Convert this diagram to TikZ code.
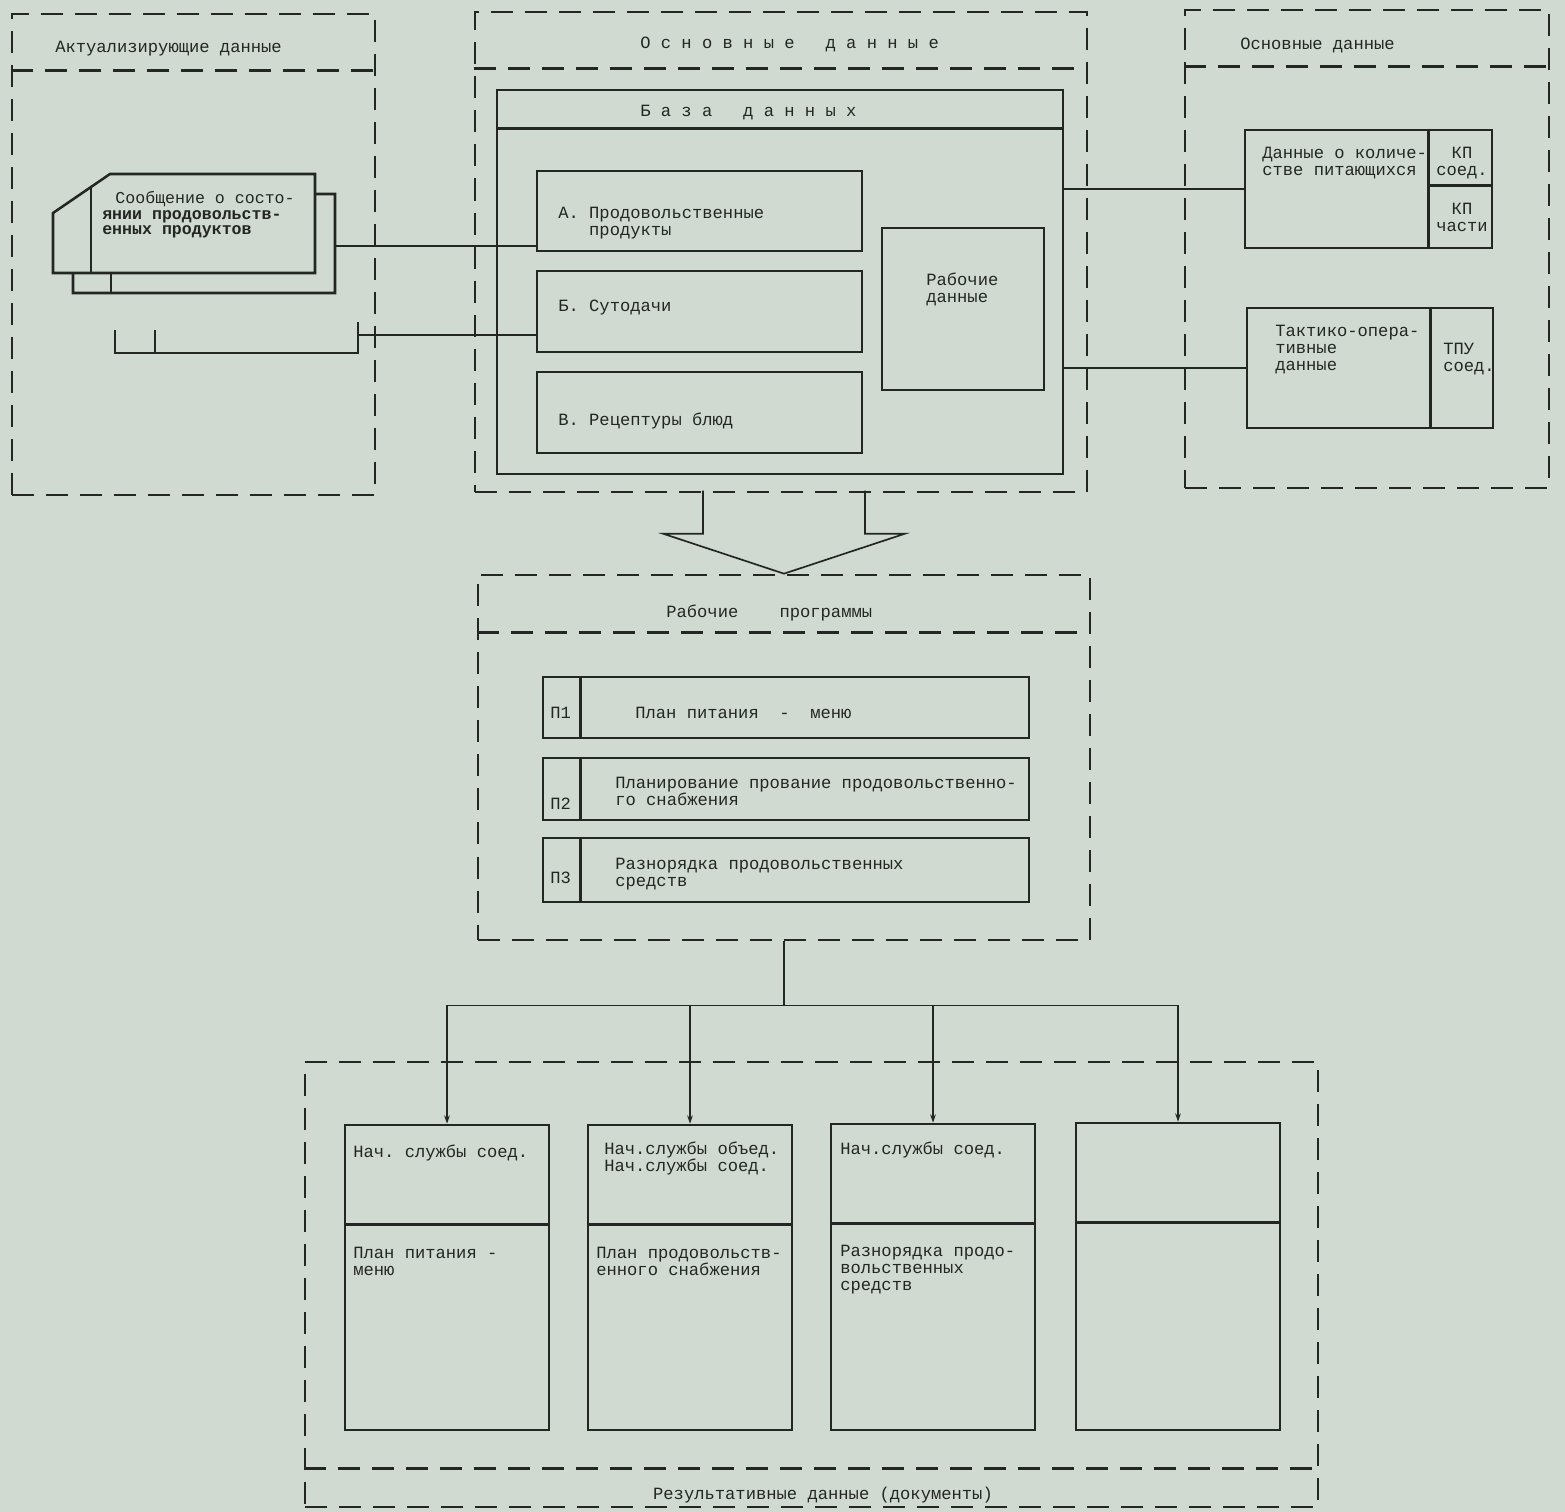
\documentclass[tikz,border=0pt]{standalone}
\usepackage{fontspec}
\setmonofont{Liberation Mono}
\usetikzlibrary{arrows.meta,positioning,fit,calc}
\definecolor{paper}{RGB}{208,218,208}
\definecolor{ink}{RGB}{36,38,36}

\begin{document}
\begin{tikzpicture}[
  x=0.025cm, y=-0.025cm,
  font=\ttfamily\fontsize{12.2}{12.1}\selectfont,
  every node/.style={text=ink},
  frame/.style={draw=ink, line width=1.9pt, dash pattern=on 0.55cm off 0.3cm, inner sep=0pt},
  sep/.style={draw=ink, line width=1.9pt, dash pattern=on 0.55cm off 0.3cm},
  box/.style={draw=ink, line width=1.8pt, inner sep=0pt},
  outline/.style={draw=ink, line width=1.8pt},
  wire/.style={draw=ink, line width=1pt},
  arr/.style={wire, -{Stealth[length=6pt,width=4pt]}},
  lbl/.style={anchor=north west, inner sep=0pt, align=left}
]
\fill[paper] (0,0) rectangle (1565,1512);
\useasboundingbox (0,0) rectangle (1565,1512);

% actualising data
\node[frame, fit={(12,14) (375,495)}] (akt) {};
\draw[sep] ($(akt.north west)+(0,58)$) -- ($(akt.north east)+(0,58)$);
\node[lbl] (akttitle) at (55,41) {Актуализирующие данные};

% card deck
\draw[outline] (115,330) -- (115,353) -- (358,353) -- (358,322);
\draw[outline] (155,330) -- (155,353);
\draw[outline] (73,293) -- (73,233) -- (130,194) -- (335,194) -- (335,293) -- cycle;
\draw[outline] (111,207) -- (111,293);
\filldraw[outline, fill=paper] (53,273) -- (53,213) -- (110,174) -- (315,174) -- (315,273) -- cycle;
\draw[outline] (91,187) -- (91,273);
\node[lbl, font=\ttfamily\fontsize{11.8}{11.2}\selectfont] (msg) at (102,191)
  {\hspace*{1.5ex}Сообщение о состо-\\\textbf{янии продовольств-}\\\textbf{енных продуктов}};
\coordinate (cardout) at (335,246);
\coordinate (deckout) at (358,335);

% main data
\node[frame, fit={(475,12) (1087,492)}] (osn) {};
\draw[sep] ($(osn.north west)+(0,58)$) -- ($(osn.north east)+(0,58)$);
\node[lbl] (osntitle) at (640,37) {О с н о в н ы е~~~д а н н ы е};

\node[box, fit={(497,90) (1063,474)}] (db) {};
\draw[outline] ($(db.north west)+(0,40)$) -- ($(db.north east)+(0,40)$);
\node[lbl] (dbtitle) at (640,105) {Б а з а~~~д а н н ы х};

\node[box, fit={(537,171) (862,251)}] (a) {};
\node[box, fit={(537,271) (862,352)}] (b) {};
\node[box, fit={(537,372) (862,453)}] (v) {};
\node[box, fit={(882,228) (1044,390)}] (work) {};
\node[lbl] (atxt) at (558,207) {А. Продовольственные\\\phantom{А. }продукты};
\node[lbl] (btxt) at (558,300) {Б. Сутодачи};
\node[lbl] (vtxt) at (558,413) {В. Рецептуры блюд};
\node[lbl] (worktxt) at (926,273) {Рабочие\\данные};

% main data, right
\node[frame, fit={(1185,10) (1549,488)}] (osnr) {};
\draw[sep] ($(osnr.north west)+(0,58)$) -- ($(osnr.north east)+(0,58)$);
\node[lbl] (osnrtitle) at (1240,38) {Основные данные};

\node[box, fit={(1245,130) (1492,248)}] (qty) {};
\draw[outline] ($(qty.north east)+(-65,0)$) -- ($(qty.south east)+(-65,0)$);
\draw[outline] ($(qty.north east)+(-65,57)$) -- ($(qty.north east)+(0,57)$);
\node[lbl] (qtytxt) at (1262,147) {Данные о количе-\\стве питающихся};
\node[anchor=north, align=center, inner sep=0pt] (kpsoed) at (1462,147) {КП\\соед.};
\node[anchor=north, align=center, inner sep=0pt] (kpchast) at (1462,203) {КП\\части};

\node[box, fit={(1247,308) (1493,428)}] (tact) {};
\draw[outline] ($(tact.north east)+(-64,0)$) -- ($(tact.south east)+(-64,0)$);
\node[lbl] (tacttxt) at (1275,325) {Тактико-опера-\\тивные\\данные};
\node[lbl] (tpu) at (1443,343) {ТПУ\\соед.};

\draw[wire] (cardout) -- (cardout -| a.west);
\draw[wire] (deckout) -- (deckout -| b.west);
\draw[wire] (qty.west -| db.east) -- (qty.west);
\draw[wire] (tact.west -| db.east) -- (tact.west);

% working programs
\node[frame, fit={(478,575) (1090,940)}] (prog) {};
\draw[sep] ($(prog.north west)+(0,59)$) -- ($(prog.north east)+(0,59)$);
\node[lbl] (progtitle) at (666,605) {Рабочие~~~~программы};

\draw[outline, line width=1.2pt] ($(prog.north)+(-81,-83)$) -- ++(0,43) -- ++(-40,0)
  -- (prog.north) -- ++(121,-40) -- ++(-40,0) -- ++(0,-43);

\node[box, fit={(543,677) (1029,738)}] (p1) {};
\node[box, fit={(543,758) (1029,820)}] (p2) {};
\node[box, fit={(543,838) (1029,902)}] (p3) {};
\foreach \p in {p1,p2,p3}
  \draw[outline] ($(\p.north west)+(39,0)$) -- ($(\p.south west)+(39,0)$);
\node[lbl] (p1no) at (550,707) {П1};
\node[lbl] (p2no) at (550,798) {П2};
\node[lbl] (p3no) at (550,872) {П3};
\node[lbl] (p1txt) at (635,707) {План питания~~-~~меню};
\node[lbl] (p2txt) at (615,777) {Планирование прование продовольственно-\\го снабжения};
\node[lbl] (p3txt) at (615,858) {Разнорядка продовольственных\\средств};

% result data
\node[frame, fit={(305,1062) (1318,1507)}] (res) {};
\draw[sep] ($(res.south west)+(0,-40)$) -- ($(res.south east)+(0,-40)$);
\node[anchor=north, inner sep=0pt] (restitle) at (823,1487) {Результативные данные (документы)};

\node[box, fit={(345,1125) (549,1430)}] (r1) {};
\node[box, fit={(588,1125) (792,1430)}] (r2) {};
\node[box, fit={(831,1124) (1035,1430)}] (r3) {};
\node[box, fit={(1076,1123) (1280,1430)}] (r4) {};
\foreach \r in {r1,r2,r3,r4}
  \draw[outline] ($(\r.north west)+(0,101)$) -- ($(\r.north east)+(0,101)$);
\node[lbl] (r1top) at (353,1145) {Нач. службы соед.};
\node[lbl] (r1txt) at (353,1247) {План питания -\\меню};
\node[lbl] (r2top) at (604,1142) {Нач.службы объед.\\Нач.службы соед.};
\node[lbl] (r2txt) at (596,1247) {План продовольств-\\енного снабжения};
\node[lbl] (r3top) at (840,1142) {Нач.службы соед.};
\node[lbl] (r3txt) at (840,1245) {Разнорядка продо-\\вольственных\\средств};

\coordinate (split) at ($(prog.south)+(0,64)$);
\draw[wire] (prog.south) -- (split);
\draw[wire] (r1.north |- split) -- (r4.north |- split);
\foreach \r in {r1,r2,r3,r4}
  \draw[arr] (\r.north |- split) -- (\r.north);
\end{tikzpicture}
\end{document}
